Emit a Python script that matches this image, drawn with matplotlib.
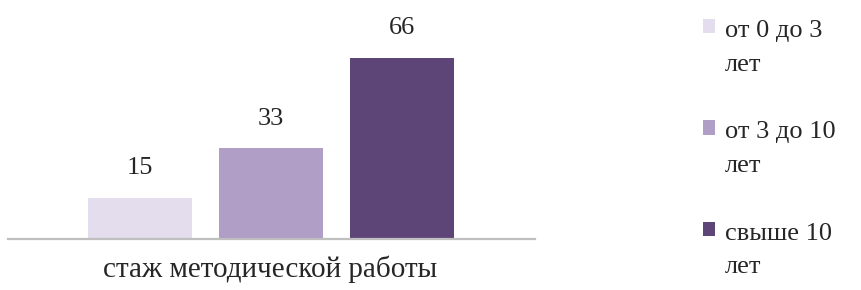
import matplotlib
matplotlib.use("Agg")
import matplotlib.pyplot as plt
from matplotlib.patches import Patch, Rectangle
from matplotlib.legend_handler import HandlerPatch

categories = ["стаж методической работы"]
series_labels = ["от 0 до 3\nлет", "от 3 до 10\nлет", "свыше 10\nлет"]
values = [15, 33, 66]
colors = ["#e3dded", "#b09ec6", "#5e4578"]

plt.rcParams['font.family'] = ['Liberation Serif', 'DejaVu Serif']

fig = plt.figure(figsize=(8.61, 2.90), dpi=100)
W, H = 861, 290
ax = fig.add_axes([8 / W, 51 / H, 527 / W, 229 / H])

xs = [0, 1, 2]
bars = ax.bar(xs, values, width=0.794, color=colors, label=series_labels, zorder=2)
for x, v in zip(xs, values):
    ax.annotate(str(v), (x, v), xytext=(0, 17), textcoords="offset points",
                ha="center", va="baseline", fontsize=19, color="#262626")

ax.set_xlim(-1.004, 3.019)
ax.set_ylim(0, 83.5)
for s in ["top", "right", "left"]:
    ax.spines[s].set_visible(False)
ax.spines["bottom"].set_color("#bfbfbf")
ax.spines["bottom"].set_linewidth(1.6)
ax.set_yticks([])
ax.set_xticks([1])
ax.set_xticklabels(categories, fontsize=21, color="#262626")
ax.tick_params(axis="x", length=0, pad=12)


def first_line_patch(legend, orig_handle, xdescent, ydescent, width, height, fontsize):
    shift = 0.79 * fontsize
    return Rectangle((-xdescent, -ydescent + shift), width, height)


handles = [Patch(facecolor=c, edgecolor="none") for c in colors]
leg = fig.legend(handles, series_labels, loc="upper left",
                 bbox_to_anchor=(690 / W, 1 - 7 / H), frameon=False,
                 fontsize=19, handlelength=0.45, handleheight=0.45,
                 handletextpad=0.38, labelspacing=1.73, borderpad=0,
                 labelcolor="#262626",
                 handler_map={Patch: HandlerPatch(patch_func=first_line_patch)})
for t in leg.get_texts():
    t.set_linespacing(1.68)

fig.savefig("out.png", dpi=100)
